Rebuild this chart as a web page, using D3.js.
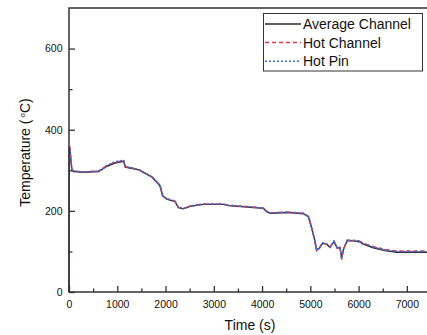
<!DOCTYPE html>
<html lang="en">
<head>
    <meta charset="UTF-8">
    <title>Temperature</title>
    <style>
        body { margin: 0; background: #fff; }
        text { font-family: "Liberation Sans", Arial, sans-serif; fill: #111; }
    </style>
</head>
<body>
    <div class="vis"><svg width="427" height="335"></svg></div>
    <script src="https://cdnjs.cloudflare.com/ajax/libs/d3/7.8.5/d3.min.js"></script>
    <script>
        // values
        var time = [0, 5, 15, 60, 100, 300, 615, 788, 950, 1133, 1167, 1444, 1720, 1885, 1941, 2024, 2196, 2265, 2369, 2507,
            2783, 3198, 3301, 3751, 4027, 4096, 4165, 4544, 4855, 4959, 5028, 5083, 5131, 5186, 5255, 5338, 5407, 5490, 5559,
            5614, 5649, 5683, 5766, 5890, 6014, 6097, 6304, 6546, 6789, 7100, 7500];
        var avgChannel = [0, 350, 355, 300, 297, 295, 297, 310, 318, 322, 308, 301, 283, 262, 237, 229, 223, 208, 205, 211,
            216, 216, 213, 209, 206, 198, 194, 196, 193, 186, 157, 132, 104, 108, 120, 118, 110, 124, 108,
            110, 83, 104, 127, 126, 124, 118, 109, 102, 98, 98, 98];
        var hotChannel = [0, 360, 358, 302, 298, 296, 298, 312, 320, 324, 309, 302, 284, 263, 236, 230, 224, 209, 206, 212,
            217, 217, 214, 210, 207, 199, 195, 197, 194, 187, 158, 130, 102, 108, 121, 118, 111, 125, 107,
            110, 80, 104, 128, 127, 126, 120, 112, 105, 101, 101, 101];
        var hotPin = [0, 358, 357, 301, 298, 296, 298, 312, 321, 325, 309, 302, 284, 263, 237, 230, 224, 209, 206, 212,
            217, 217, 214, 210, 207, 199, 195, 197, 194, 187, 158, 131, 103, 108, 121, 119, 111, 125, 108,
            111, 82, 105, 128, 127, 126, 120, 111, 104, 100, 100, 100];
        var seriesNames = ["Average Channel", "Hot Channel", "Hot Pin"];
        var xTicks = [0, 1000, 2000, 3000, 4000, 5000, 6000, 7000];
        var yTicks = [0, 200, 400, 600];

        var svg = d3.select('.vis svg');

        var xScale = d3.scaleLinear().domain([0, 7500]).range([69, 431]);
        var yScale = d3.scaleLinear().domain([0, 700]).range([292, 8]);

        var styles = [
            { color: '#2b2b2b', dash: null, width: 1.4 },
            { color: '#e8383d', dash: '4,3', width: 1.5 },
            { color: '#2f6fe0', dash: '2,2', width: 1.5 }
        ];
        var series = [avgChannel, hotChannel, hotPin];

        var line = d3.line()
            .x((d, i) => xScale(time[i]))
            .y(d => yScale(d));

        svg.selectAll('path.series')
            .data(series)
            .enter()
            .append('path')
            .attr('class', 'series')
            .attr('d', d => line(d))
            .attr('fill', 'none')
            .attr('stroke', (d, i) => styles[i].color)
            .attr('stroke-width', (d, i) => styles[i].width)
            .attr('stroke-dasharray', (d, i) => styles[i].dash);

        // minor ticks
        svg.append('g')
            .attr('transform', 'translate(0,292)')
            .call(d3.axisBottom(xScale).tickValues(d3.range(500, 7500, 1000)).tickSize(-3.5).tickSizeOuter(0).tickFormat(''))
            .call(g => g.select('.domain').remove());
        svg.append('g')
            .attr('transform', 'translate(69,0)')
            .call(d3.axisLeft(yScale).tickValues([100, 300, 500]).tickSize(-3.5).tickSizeOuter(0).tickFormat(''))
            .call(g => g.select('.domain').remove());

        // major ticks
        svg.append('g')
            .attr('transform', 'translate(0,292)')
            .call(d3.axisBottom(xScale).tickValues(xTicks).tickFormat(d3.format('d')).tickSize(-6).tickSizeOuter(0).tickPadding(9))
            .call(g => g.select('.domain').remove());
        svg.append('g')
            .attr('transform', 'translate(69,0)')
            .call(d3.axisLeft(yScale).tickValues(yTicks).tickFormat(d3.format('d')).tickSize(-6).tickSizeOuter(0).tickPadding(6.5))
            .call(g => g.select('.domain').remove());

        svg.selectAll('.tick line').attr('stroke', '#333').attr('stroke-width', 1.3);
        svg.selectAll('.tick text')
            .attr('font-family', '"Liberation Sans", Arial, sans-serif')
            .attr('font-size', 10.5)
            .attr('fill', '#111');

        // frame
        svg.append('rect')
            .attr('x', xScale(0))
            .attr('y', yScale(700))
            .attr('width', xScale(7500) - xScale(0))
            .attr('height', yScale(0) - yScale(700))
            .attr('fill', 'none')
            .attr('stroke', '#333')
            .attr('stroke-width', 1.5);

        // axis titles
        svg.append('text')
            .attr('x', 250)
            .attr('y', 329.5)
            .attr('text-anchor', 'middle')
            .attr('font-size', 14)
            .text('Time (s)');

        var yTitle = svg.append('text')
            .attr('transform', 'translate(30,152.5) rotate(-90)')
            .attr('text-anchor', 'middle')
            .attr('font-size', 14);
        yTitle.append('tspan').text('Temperature (');
        yTitle.append('tspan').attr('dx', 2).attr('dy', -5).attr('font-size', 8).text('o');
        yTitle.append('tspan').attr('dy', 5).text('C)');

        // legend
        var legend = svg.append('g');
        legend.append('rect')
            .attr('x', 263.5)
            .attr('y', 13.5)
            .attr('width', 159)
            .attr('height', 57.5)
            .attr('fill', '#fff')
            .attr('stroke', '#333')
            .attr('stroke-width', 1);

        var items = legend.selectAll('g.item')
            .data(seriesNames)
            .enter()
            .append('g')
            .attr('class', 'item')
            .attr('transform', (d, i) => `translate(0, ${24 + i * 18.6})`);
        items.append('line')
            .attr('x1', 265)
            .attr('x2', 301)
            .attr('stroke', (d, i) => styles[i].color)
            .attr('stroke-width', (d, i) => styles[i].width)
            .attr('stroke-dasharray', (d, i) => styles[i].dash);
        items.append('text')
            .attr('x', 303)
            .attr('y', 5.2)
            .attr('font-size', 14)
            .text(d => d);
    </script>
</body>
</html>
